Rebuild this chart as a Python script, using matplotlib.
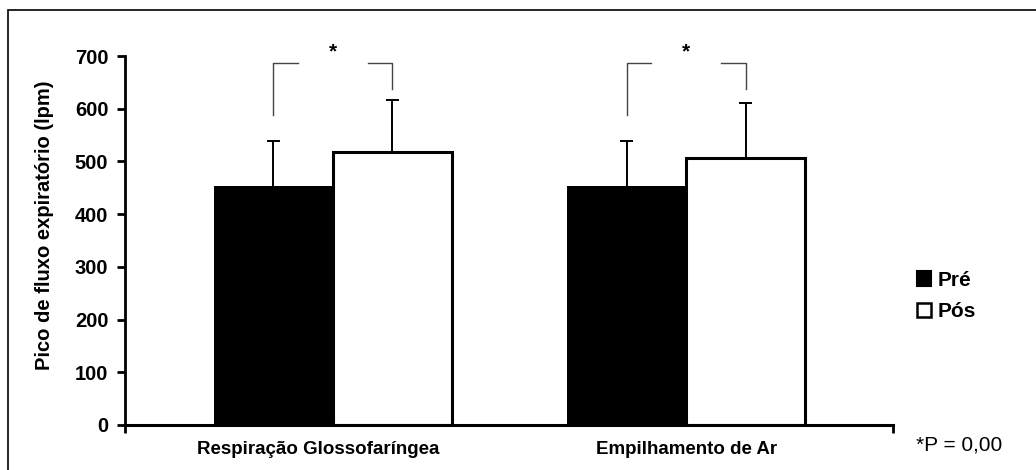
import matplotlib
matplotlib.use("Agg")
import matplotlib.pyplot as plt
from matplotlib.patches import Rectangle, Patch
import numpy as np

plt.rcParams['font.family'] = ['Liberation Sans', 'DejaVu Sans']

categories = ["Respiração Glossofaríngea", "Empilhamento de Ar"]
pre_vals = [453, 453]
pos_vals = [518, 506]
pre_err = [86, 86]
pos_err = [98, 104]
series_labels = ["Pré", "Pós"]
bracket_top = 687
bracket_left_bottom = 588
bracket_right_bottom = 638
yticks = [0, 100, 200, 300, 400, 500, 600, 700]
ylabel = "Pico de fluxo expiratório (lpm)"
note = "*P = 0,00"

W, H = 1036, 470
fig = plt.figure(figsize=(W / 100, H / 100), dpi=100)
# outer frame
fig.add_artist(Rectangle((8 / W, -0.05), 1.1, (H - 10) / H + 0.05, transform=fig.transFigure,
                         fill=False, edgecolor='black', lw=1.2))

ax = fig.add_axes([125 / W, (H - 425) / H, (893 - 125) / W, (425 - 56) / H])
x = np.arange(len(categories))
bw = 0.337
cap = 0.018

ax.bar(x - bw / 2, pre_vals, bw, color='black', edgecolor='black', lw=0, zorder=2)
ax.bar(x + bw / 2, pos_vals, bw, color='white', edgecolor='black', lw=2.2, zorder=2)
for xs, vals, errs in [(x - bw / 2, pre_vals, pre_err), (x + bw / 2, pos_vals, pos_err)]:
    tops = np.array(vals) + np.array(errs)
    ax.vlines(xs, vals, tops, color='black', lw=1.4, zorder=3)
    ax.hlines(tops, xs - cap, xs + cap, color='black', lw=1.4, zorder=3)

gap = 0.1
for xi in x:
    xl, xr = xi - bw / 2, xi + bw / 2
    ax.plot([xl, xl, xi - gap], [bracket_left_bottom, bracket_top, bracket_top],
            color='#444444', lw=1.0, clip_on=False)
    ax.plot([xi + gap, xr, xr], [bracket_top, bracket_top, bracket_right_bottom],
            color='#444444', lw=1.0, clip_on=False)
    ax.text(xi, bracket_top + 2, "*", ha='center', va='bottom', fontsize=15,
            fontweight='bold', clip_on=False)

ax.set_xlim(-0.589, 1.586)
ax.set_ylim(0, 700)
ax.set_yticks(yticks)
ax.set_yticklabels([str(t) for t in yticks], fontsize=14.5, fontweight='bold')
ax.set_xticks([-0.589, 1.586])
ax.set_xticklabels([])
ax.tick_params(axis='both', direction='out', length=6, width=2, pad=6)
label_shift = [-0.042, 0.0]
for i, c in enumerate(categories):
    ax.text(x[i] + label_shift[i], -30, c, ha='center', va='top', fontsize=13.5, fontweight='bold')

for s in ['top', 'right']:
    ax.spines[s].set_visible(False)
ax.spines['left'].set_linewidth(2)
ax.spines['bottom'].set_linewidth(2.2)

ax.set_ylabel(ylabel, fontsize=14.5, fontweight='bold')
ax.yaxis.set_label_coords(-0.093, 0.542)

handles = [Patch(facecolor='black', edgecolor='black', lw=1.5),
           Patch(facecolor='white', edgecolor='black', lw=1.8)]
fig.legend(handles, series_labels, loc='center left', bbox_to_anchor=(898 / W, (H - 296) / H),
           frameon=False, prop={'weight': 'bold', 'size': 15}, handlelength=0.7,
           handleheight=0.7, handletextpad=0.3, labelspacing=0.6)

fig.text(916 / W, (H - 445) / H, note, ha='left', va='center', fontsize=15)

fig.savefig("out.png", dpi=100)
